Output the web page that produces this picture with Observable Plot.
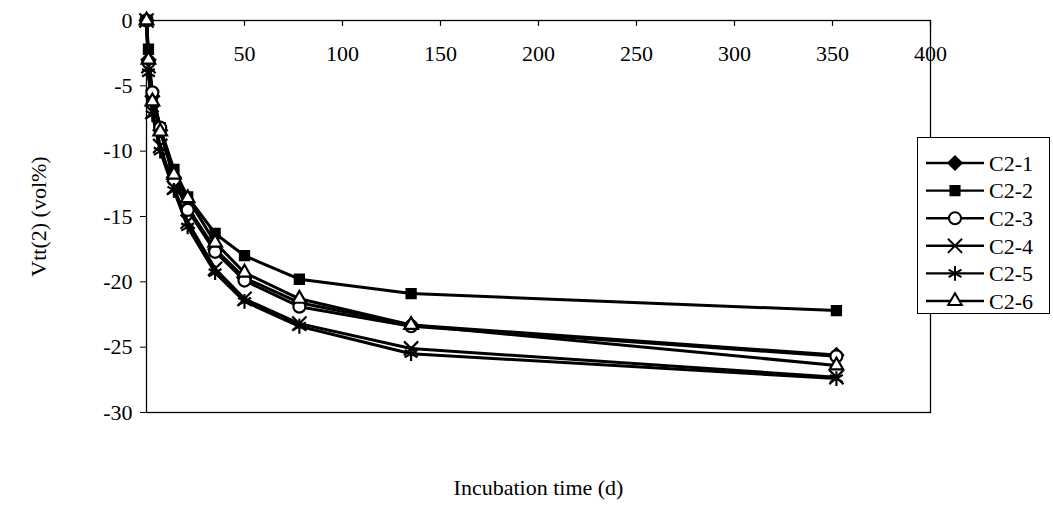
<!DOCTYPE html>
<html>
<head>
<meta charset="utf-8">
<script src="https://cdn.jsdelivr.net/npm/d3@7"></script>
<script src="https://cdn.jsdelivr.net/npm/@observablehq/plot@0.6"></script>
<style>
  body { margin: 0; background: #fff; }
  #wrap { position: relative; width: 1053px; height: 507px; font-family: 'Liberation Serif', 'Times New Roman', 'DejaVu Serif', serif; }
  #legend { position: absolute; left: 917px; top: 137px; width: 133px; height: 177px; background: #fff; border: 1.5px solid #000; box-sizing: border-box; }
  #legend svg { display: block; overflow: visible; }
  svg text { font-family: 'Liberation Serif', 'Times New Roman', 'DejaVu Serif', serif; }
</style>
</head>
<body>
<div id="wrap"><div id="legend"></div></div>
<script>
const times = [0, 1, 3, 7, 14, 21, 35, 50, 78, 135, 352];
const seriesNames = ["C2-1", "C2-2", "C2-3", "C2-4", "C2-5", "C2-6"];
const c21 = [0, -3.0, -5.8, -8.4, -12.0, -14.3, -17.5, -19.7, -21.6, -23.3, -25.6];
const c22 = [0, -2.2, -5.7, -8.2, -11.4, -13.5, -16.3, -18.0, -19.8, -20.9, -22.2];
const c23 = [0, -3.2, -5.5, -8.2, -12.2, -14.5, -17.7, -19.9, -21.9, -23.4, -25.7];
const c24 = [0, -3.5, -7.0, -9.6, -12.8, -15.4, -19.0, -21.3, -23.2, -25.1, -27.3];
const c25 = [0, -4.0, -7.2, -10.0, -13.0, -15.8, -19.3, -21.5, -23.4, -25.5, -27.4];
const c26 = [0, -3.0, -6.2, -8.5, -11.8, -13.6, -17.0, -19.3, -21.3, -23.3, -26.4];
const xTicks = [50, 100, 150, 200, 250, 300, 350, 400];
const yTicks = [0, -5, -10, -15, -20, -25, -30];

const values = [c21, c22, c23, c24, c25, c26];
const styles = [
  {symbol: "diamond2", fill: "black", stroke: "black", r: 6},
  {symbol: "square2", fill: "black", stroke: "black", r: 5.8},
  {symbol: "circle", fill: "white", stroke: "black", r: 6},
  {symbol: "times", fill: "none", stroke: "black", r: 6.5},
  {symbol: "asterisk", fill: "none", stroke: "black", r: 7},
  {symbol: "triangle2", fill: "white", stroke: "black", r: 6.5}
];
const rows = seriesNames.flatMap((s, i) => times.map((t, j) => ({series: s, t, v: values[i][j]})));

const font = "'Liberation Serif', 'Times New Roman', 'DejaVu Serif', serif";
const fs = 22;
const marks = [
  Plot.frame({stroke: "black", strokeWidth: 1.3}),
  Plot.ruleX(xTicks, {x: d => d, y1: 0, y2: -0.45, stroke: "black", strokeWidth: 1.2}),
  Plot.text(xTicks, {x: d => d, y: 0, dy: 33, text: d => String(d), fontSize: fs, fill: "black"}),
  Plot.axisY({ticks: yTicks, tickSize: 6, tickPadding: 8, fontSize: fs, tickFormat: d => String(d), label: "Vtt(2) (vol%)", labelAnchor: "center", labelArrow: "none", labelOffset: 116, color: "black"})
];
seriesNames.forEach((s, i) => {
  const d = rows.filter(r => r.series === s);
  marks.push(Plot.line(d, {x: "t", y: "v", stroke: "black", strokeWidth: 3}));
});
seriesNames.forEach((s, i) => {
  const d = rows.filter(r => r.series === s);
  const st = styles[i];
  marks.push(Plot.dot(d, {x: "t", y: "v", symbol: () => st.symbol, r: st.r, fill: st.fill, stroke: st.stroke, strokeWidth: 2.2}));
});
marks.push(Plot.text(["Incubation time (d)"], {frameAnchor: "bottom", dy: 82, text: d => d, fontSize: fs, fill: "black"}));

const chart = Plot.plot({
  width: 1053, height: 507,
  marginLeft: 146, marginRight: 123, marginTop: 20, marginBottom: 95,
  style: {fontFamily: font, fontSize: fs + "px", color: "black", background: "white", overflow: "visible"},
  x: {domain: [0, 400], axis: null},
  y: {domain: [-30, 0]},
  symbol: {type: "identity"},
  marks
});
document.getElementById("wrap").prepend(chart);

// legend
const lw = 133, lh = 177;
const svg = d3.select("#legend").append("svg").attr("width", lw - 3).attr("height", lh - 3);
seriesNames.forEach((s, i) => {
  const y = 25 + i * 27.6;
  const g = svg.append("g");
  g.append("line").attr("x1", 8).attr("x2", 66).attr("y1", y).attr("y2", y).attr("stroke", "black").attr("stroke-width", 2.4);
  const st = styles[i];
  const sym = {diamond2: d3.symbolDiamond2, square2: d3.symbolSquare2, circle: d3.symbolCircle, times: d3.symbolTimes, asterisk: d3.symbolAsterisk, triangle2: d3.symbolTriangle2}[st.symbol];
  g.append("path").attr("d", d3.symbol(sym, Math.PI * st.r * st.r)()).attr("transform", `translate(37,${y})`)
    .attr("fill", st.fill).attr("stroke", st.stroke).attr("stroke-width", 2);
  g.append("text").attr("x", 71).attr("y", y).attr("dy", "0.35em").attr("font-family", font).attr("font-size", fs).text(s);
});
</script>
</body>
</html>
